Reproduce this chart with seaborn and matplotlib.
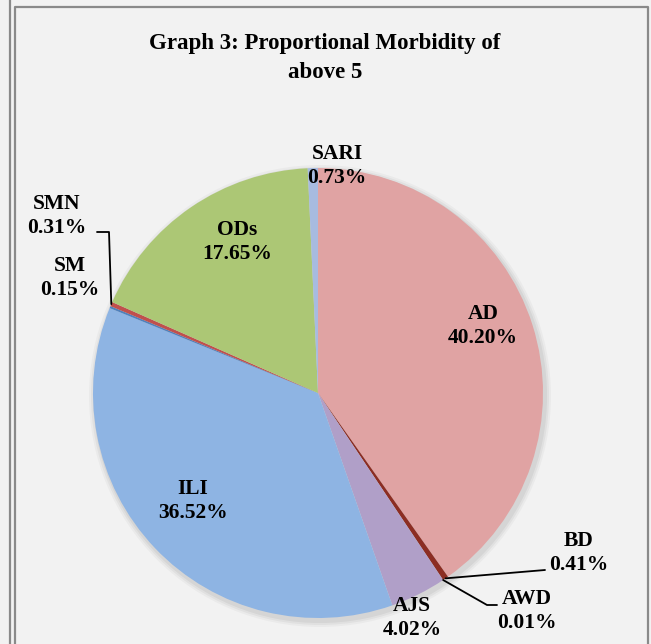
import matplotlib
matplotlib.use("Agg")
import matplotlib.pyplot as plt
import seaborn as sns
import numpy as np
from matplotlib.lines import Line2D
from matplotlib.patches import Circle

# data
categories = ["AD", "BD", "AWD", "AJS", "ILI", "SM", "SMN", "ODs", "SARI"]
values = [40.20, 0.41, 0.01, 4.02, 36.52, 0.15, 0.31, 17.65, 0.73]
colors = ["#E0A3A3", "#8C2D23", "#5A2A2A", "#B09FC8", "#8EB4E3",
          "#4F81BD", "#C0504D", "#ACC775", "#A7BBE0"]
title = "Graph 3: Proportional Morbidity of\nabove 5"

W, H = 651, 644
sns.set_style("white")
plt.rcParams["font.family"] = ["Liberation Serif", "DejaVu Serif"]
plt.rcParams["text.color"] = "black"

fig = plt.figure(figsize=(W / 100, H / 100), dpi=100, facecolor="#F2F2F2")
ax = fig.add_axes([0, 0, 1, 1])
ax.set_facecolor("#F2F2F2")

# pie centre / radius in pixels (y downwards)
cx, cy, R = 318, 393, 225

# soft shadow
for i, a in enumerate([0.05, 0.04, 0.03]):
    ax.add_patch(Circle((cx + 2, cy + 3), R + 2 + i * 2, color="#000000",
                        alpha=a, lw=0, zorder=1))

# y axis inverted -> counterclock=True draws clockwise on screen, startangle -90 = top
wedges, _ = ax.pie(values, colors=colors, startangle=-90, counterclock=True,
                   center=(cx, cy), radius=R, frame=True,
                   wedgeprops=dict(linewidth=0, zorder=2))
ax.set_xlim(0, W)
ax.set_ylim(H, 0)
ax.set_aspect("equal")
ax.axis("off")

fs = 15.5
label_pos = {
    "AD": (483, 326), "BD": (579, 553), "AWD": (527, 611), "AJS": (412, 618),
    "ILI": (193, 501), "SM": (70, 278), "SMN": (57, 216), "ODs": (237, 242),
    "SARI": (337, 166),
}
for cat, val in zip(categories, values):
    x, y = label_pos[cat]
    ax.text(x, y, f"{cat}\n{val:.2f}%", ha="center", va="center",
            fontsize=fs, fontweight="bold", linespacing=1.3, zorder=5,
            color="black")

# leader lines
def edge_point(i):
    w = wedges[i]
    mid = np.deg2rad((w.theta1 + w.theta2) / 2)
    return cx + R * np.cos(mid), cy + R * np.sin(mid)

ex, ey = edge_point(categories.index("SMN"))
ax.plot([97, 109, ex], [232, 232, ey], color="black", lw=1.3, zorder=6)
ex, ey = edge_point(categories.index("BD"))
ax.plot([ex, 545], [ey, 570], color="black", lw=1.3, zorder=6)
ex, ey = edge_point(categories.index("AWD"))
ax.plot([ex, 487, 497], [ey, 605, 605], color="black", lw=1.3, zorder=6)

ax.text(325, 58, title, ha="center", va="center", fontsize=16.5,
        fontweight="bold", linespacing=1.55, color="black")

# frame lines
gc = "#8A8A8A"
fig.add_artist(Line2D([10 / W, 10 / W], [0, 1], color=gc, lw=1.6))
fig.add_artist(Line2D([15 / W, 15 / W, 648 / W, 648 / W],
                      [0, 1 - 7 / H, 1 - 7 / H, 0], color=gc, lw=1.6))

fig.savefig("out.png", dpi=100, facecolor=fig.get_facecolor())
